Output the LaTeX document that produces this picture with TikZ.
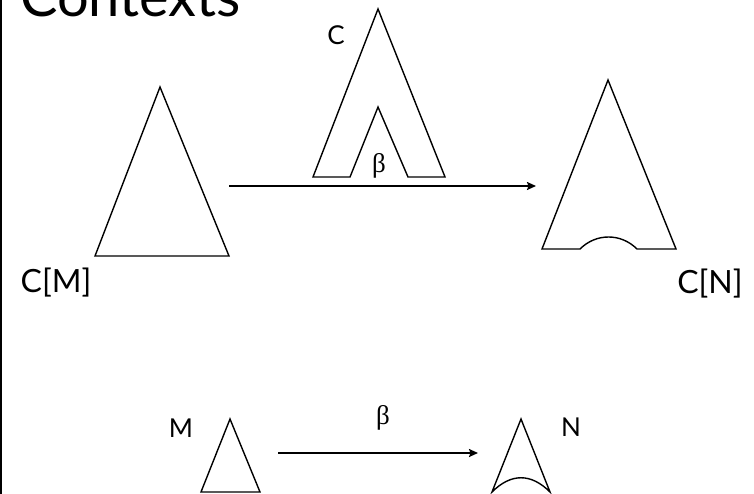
\documentclass[tikz,border=0pt]{standalone}
\usepackage{fontspec}
\setmainfont{Lato}
\newfontfamily\betafont{Liberation Serif}
\usetikzlibrary{arrows.meta, positioning}

\begin{document}
\begin{tikzpicture}[
  x=1pt, y=-1pt,
  every node/.style={inner sep=0pt},
  tree/.style={draw=black, line width=1.4pt, line join=miter},
  maparrow/.style={-{Stealth[length=9pt, width=8pt, inset=1.5pt]}, line width=2pt},
  biglabel/.style={font=\fontsize{32}{36}\selectfont, anchor=base},
  smalllabel/.style={font=\fontsize{26}{30}\selectfont, anchor=base},
  betalabel/.style={font=\betafont\fontsize{27}{31}\selectfont},
]
\useasboundingbox (0,0) rectangle (754,494);

% Title and left rule
\node[font=\fontsize{56}{60}\selectfont, anchor=base west] (title) at (20,17) {Contexts};
\draw[line width=2pt] (1,0) -- (1,494);

% Top: C[M] --> C[N]
\draw[tree] (95,256) -- (160,87) -- (229,256) -- cycle;
\node[biglabel] (cm) at (56,292) {C[M]};

\draw[tree] (313,177) -- (378,9) -- (445,177) -- (408,177) -- (378,107) -- (350,177) -- cycle;
\node[smalllabel] (c) at (336,45) {C};
\node[betalabel] (beta1) at (379,166) {β};

\draw[tree] (542,249) -- (608,80) -- (676,249) -- (637,249)
  .. controls (621,233) and (596,233) .. (580,249) -- cycle;
\node[biglabel] (cn) at (710,293) {C[N]};

\coordinate (a1) at (229,186);
\coordinate (b1) at (536,186);
\draw[maparrow] (a1) -- (b1);

% Bottom: M --> N
\draw[tree] (201,492) -- (230,419) -- (260,492) -- cycle;
\node[smalllabel] (m) at (181,437) {M};

\draw[tree] (492,492) -- (521,419) -- (550,492)
  .. controls (531,473) and (511,473) .. (492,492) -- cycle;
\node[smalllabel] (n) at (571,436) {N};

\node[betalabel] (beta2) at (383,418) {β};
\coordinate (a2) at (278,453);
\coordinate (b2) at (478,453);
\draw[maparrow] (a2) -- (b2);

\end{tikzpicture}
\end{document}
